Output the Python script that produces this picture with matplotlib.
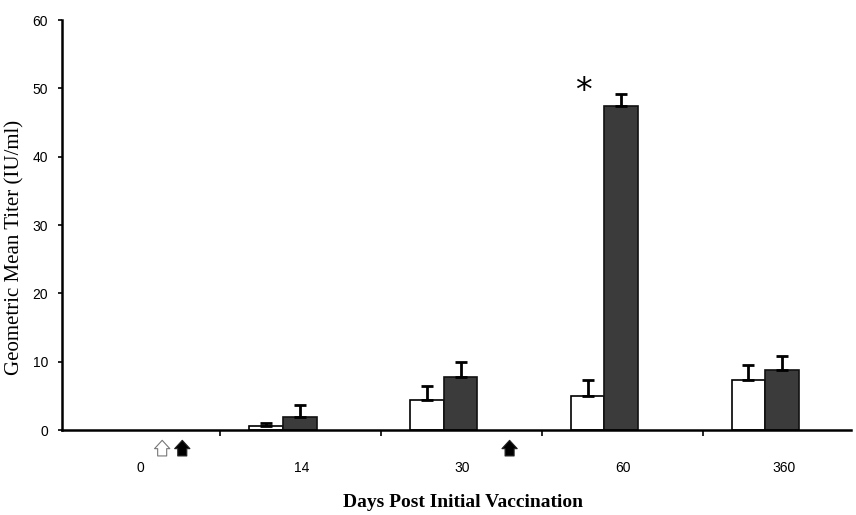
import numpy as np
import matplotlib.pyplot as plt

days = ['0', '14', '30', '60', '360']
white_vals = [0, 0.6, 4.4, 5.0, 7.3]
white_err = [0, 0.4, 2.1, 2.3, 2.2]
dark_vals = [0, 1.9, 7.8, 47.4, 8.8]
dark_err = [0, 1.8, 2.1, 1.8, 2.1]

# vaccination arrows below the x axis (x in category units, filled or not)
arrow_x = [0.25, 0.375, 2.41]
arrow_filled = [False, True, True]

plt.rcParams['font.family'] = ['Liberation Serif', 'DejaVu Serif']

fig = plt.figure(figsize=(8.56, 5.15), dpi=100)
ax = fig.add_axes([0.0724, 0.165, 0.922, 0.796])

x = np.arange(len(days))
w = 0.21
# day 0 has no measurable titer, so only draw non-zero bars
keep = [i for i in x if white_vals[i] > 0 or dark_vals[i] > 0]
wv = np.array(white_vals)[keep]
dv = np.array(dark_vals)[keep]
we = np.array(white_err)[keep]
de = np.array(dark_err)[keep]
xk = x[keep]

ax.bar(xk - w / 2, wv, w, color='white', edgecolor='black', linewidth=1.2,
       yerr=[np.zeros(len(xk)), we], capsize=4,
       error_kw=dict(elinewidth=2, capthick=2, ecolor='black'))
ax.bar(xk + w / 2, dv, w, color='#3b3b3b', edgecolor='#111111', linewidth=1.2,
       yerr=[np.zeros(len(xk)), de], capsize=4,
       error_kw=dict(elinewidth=2, capthick=2, ecolor='black'))

ax.text(2.87, 49.5, '*', fontsize=24, ha='center', va='center', family='DejaVu Sans')

for ax_x, filled in zip(arrow_x, arrow_filled):
    ax.annotate('', xy=(ax_x, -1.1), xytext=(ax_x, -4.2), annotation_clip=False,
                arrowprops=dict(arrowstyle='simple,head_width=1.1,head_length=0.6,tail_width=0.65',
                                fc='black' if filled else 'white',
                                ec='#222222' if filled else '#777777', lw=0.8))

ax.set_xlim(-0.373, 4.534)
ax.set_ylim(0, 60)
ax.set_yticks(range(0, 61, 10))
ax.set_xticks([i + 0.61 for i in range(4)])
ax.set_xticklabels([])
ax.set_xticks(x + 0.115, minor=True)
ax.set_xticklabels(days, minor=True)
ax.tick_params(axis='x', which='major', length=4, width=1.2, direction='out')
ax.tick_params(axis='x', which='minor', length=0, pad=22, labelsize=10)
ax.tick_params(axis='y', length=3, width=1.2, labelsize=10, pad=7)
for lab in ax.get_xticklabels(minor=True) + ax.get_yticklabels():
    lab.set_family('Liberation Sans')

ax.spines['top'].set_visible(False)
ax.spines['right'].set_visible(False)
ax.spines['left'].set_linewidth(1.8)
ax.spines['bottom'].set_linewidth(1.8)

ax.set_ylabel('Geometric Mean Titer (IU/ml)', fontsize=15)
ax.yaxis.set_label_coords(-0.047, 0.445)
ax.set_xlabel('Days Post Initial Vaccination', fontsize=14, fontweight='bold')
ax.xaxis.set_label_coords(0.508, -0.155)

fig.savefig('out.png', dpi=100)
